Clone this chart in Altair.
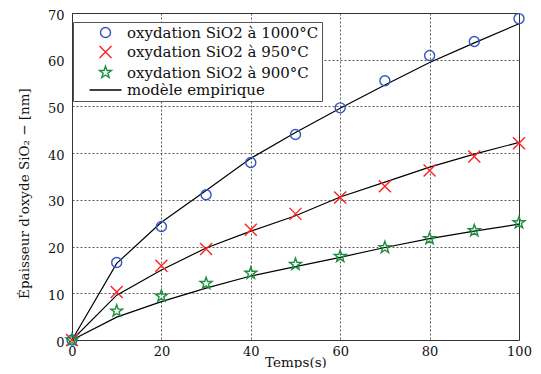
import altair as alt
import pandas as pd

# ---- data ----
time_s = [0, 10, 20, 30, 40, 50, 60, 70, 80, 90, 100]
ox_1000 = [0, 16.6, 24.3, 31.1, 38.0, 44.0, 49.7, 55.5, 60.9, 63.9, 68.8]
ox_950 = [0, 10.3, 15.9, 19.5, 23.6, 27.0, 30.5, 32.9, 36.3, 39.3, 42.1]
ox_900 = [0, 6.2, 9.4, 12.1, 14.3, 16.2, 17.9, 19.8, 21.7, 23.4, 25.1]
model_1000 = [0, 16.4, 25.2, 32.0, 38.9, 44.4, 49.6, 54.6, 59.4, 63.6, 67.7]
model_950 = [0, 9.6, 15.0, 19.7, 23.3, 26.6, 30.6, 33.8, 37.0, 39.8, 42.3]
model_900 = [0, 4.9, 8.2, 11.1, 13.7, 15.7, 17.7, 19.8, 21.7, 23.3, 24.8]

series_names = [
    "oxydation SiO2 à 1000°C",
    "oxydation SiO2 à 950°C",
    "oxydation SiO2 à 900°C",
    "modèle empirique",
]
x_ticks = [0, 20, 40, 60, 80, 100]
y_ticks = [0, 10, 20, 30, 40, 50, 60, 70]

FONT = "DejaVu Serif"

pts = pd.concat([
    pd.DataFrame({"t": time_s, "v": ox_1000, "serie": series_names[0]}),
    pd.DataFrame({"t": time_s, "v": ox_950, "serie": series_names[1]}),
    pd.DataFrame({"t": time_s, "v": ox_900, "serie": series_names[2]}),
])
mod = pd.concat([
    pd.DataFrame({"t": time_s, "v": model_1000, "m": "1000"}),
    pd.DataFrame({"t": time_s, "v": model_950, "m": "950"}),
    pd.DataFrame({"t": time_s, "v": model_900, "m": "900"}),
])

X_PATH = "M-1.2,-1.2L1.2,1.2M-1.2,1.2L1.2,-1.2"
STAR_PATH = ("M0,-1.25L0.29,-0.4L1.19,-0.39L0.47,0.15L0.73,1.01L0,0.5"
             "L-0.73,1.01L-0.47,0.15L-1.19,-0.39L-0.29,-0.4Z")
LINE_PATH = "M-3.2,0L3.2,0"

x_enc = alt.X(
    "t:Q",
    scale=alt.Scale(domain=[0, 100], nice=False),
    axis=alt.Axis(
        values=x_ticks, title="Temps(s)", grid=True, ticks=False, domain=False,
        labelPadding=5, labelFlush=False, titleY=26, titleBaseline="alphabetic",
    ),
)
y_enc = alt.Y(
    "v:Q",
    scale=alt.Scale(domain=[0, 70], nice=False),
    axis=alt.Axis(
        values=y_ticks, title="Épaisseur d'oxyde SiO₂ − [nm]", grid=True,
        ticks=False, domain=False, labelPadding=8, labelFlush=False,
        labelOffset=2,
        titleX=-48, titleY=180, titleAngle=270, titleAlign="center",
        titleBaseline="middle",
    ),
)

lines = alt.Chart(mod).mark_line(color="black", strokeWidth=1.2).encode(
    x=x_enc, y=y_enc, detail="m:N"
)

points = alt.Chart(pts).mark_point(filled=False, size=100, strokeWidth=1.4, opacity=1).encode(
    x=x_enc,
    y=y_enc,
    color=alt.Color(
        "serie:N",
        scale=alt.Scale(domain=series_names,
                        range=["#2f55c0", "#ff2020", "#1b8f3e", "#000000"]),
        legend=alt.Legend(
            title=None, orient="none", legendX=1, legendY=9,
            labelFont=FONT, labelFontSize=15, labelColor="#111",
            labelLimit=400,
            symbolSize=100, symbolStrokeWidth=1.4, labelOffset=14,
            symbolOffset=22,
            rowPadding=1.5, padding=3, strokeColor="#555", fillColor="white",
            offset=0,
        ),
    ),
    shape=alt.Shape(
        "serie:N",
        scale=alt.Scale(domain=series_names,
                        range=["circle", X_PATH, STAR_PATH, LINE_PATH]),
        legend=alt.Legend(title=None, orient="none", legendX=1, legendY=9),
    ),
)

chart = (
    alt.layer(lines, points)
    .properties(
        width=447, height=327,
        autosize=alt.AutoSizeParams(type="none"),
        padding={"left": 64, "top": 5, "right": 14, "bottom": 28},
    )
    .configure_view(stroke="#333", strokeWidth=1)
    .configure_axis(
        labelFont=FONT, labelFontSize=13, labelColor="#111",
        titleFont=FONT, titleFontSize=13.5, titleFontWeight="normal",
        titleColor="#111", gridColor="#333", gridDash=[2, 2],
        gridWidth=0.8, gridOpacity=1,
    )
)

chart.save("out.html", embed_options={"renderer": "svg", "actions": False})
